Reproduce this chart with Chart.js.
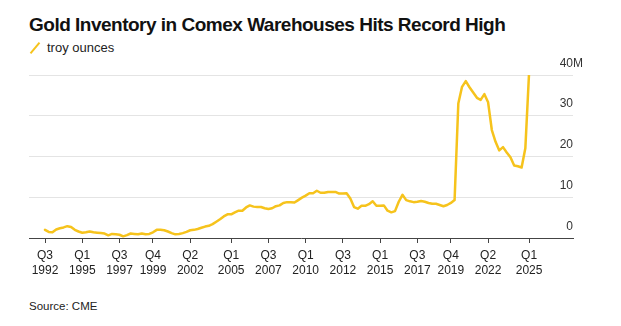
<!DOCTYPE html>
<html>
<head>
<meta charset="utf-8">
<script src="https://cdn.jsdelivr.net/npm/chart.js@4.4.1/dist/chart.umd.min.js"></script>
<style>
  html, body { margin: 0; padding: 0; background: #fff; }
  body { width: 621px; height: 326px; position: relative; overflow: hidden; font-family: "Liberation Sans", Arial, sans-serif; }
  #title { position: absolute; left: 29px; top: 15px; font-size: 19px; line-height: 19px; font-weight: bold; color: #111; letter-spacing: -0.5px; white-space: nowrap; }
  #legend { position: absolute; left: 47px; top: 40.5px; font-size: 13px; line-height: 13px; color: #222; white-space: nowrap; }
  #slash { position: absolute; left: 34.3px; top: 40.5px; width: 2px; height: 14px; background: #F6C31C; transform: rotate(40deg); }
  #source { position: absolute; left: 29px; top: 301px; font-size: 11.5px; line-height: 11.5px; color: #222; white-space: nowrap; }
  #wrap { position: absolute; left: 0; top: 0; width: 621px; height: 326px; }
</style>
</head>
<body>
<div id="title">Gold Inventory in Comex Warehouses Hits Record High</div>
<div id="slash"></div>
<div id="legend">troy ounces</div>
<div id="source">Source: CME</div>
<div id="wrap"><canvas id="c" width="621" height="326"></canvas></div>
<script>
// Quarterly index: 0 = Q3 1992 ... 130 = Q1 2025
const seriesName = "troy ounces";
const inventoryM = [
  2.0,1.5,1.4,2.1,2.4,2.6,2.9,2.7,2.0,1.6,
  1.3,1.4,1.6,1.4,1.3,1.2,1.1,0.65,1.0,0.9,
  0.8,0.4,0.7,1.1,1.0,0.9,1.1,0.9,1.0,1.4,
  2.0,2.0,1.9,1.6,1.2,0.9,1.0,1.2,1.5,1.9,
  2.0,2.2,2.5,2.8,3.0,3.4,4.0,4.6,5.3,5.8,
  5.8,6.3,6.7,6.7,7.5,8.0,7.7,7.6,7.6,7.3,
  7.1,7.3,7.8,8.0,8.6,8.8,8.8,8.7,9.3,9.9,
  10.4,11.0,11.0,11.6,11.1,11.1,11.3,11.3,11.3,10.9,
  10.9,11.0,9.7,7.6,7.2,7.9,7.9,8.3,9.0,7.9,
  7.9,8.0,6.7,6.3,6.6,8.9,10.6,9.3,9.0,8.8,
  8.9,9.1,8.9,8.6,8.4,8.4,8.1,7.8,8.1,8.6,
  9.3,33.0,37.1,38.5,37.0,35.7,34.4,33.9,35.3,33.3,
  26.5,23.6,21.5,22.3,21.0,19.8,17.8,17.6,17.3,22.0,40.5
];
const xTickIndex = [0,10,20,29,39,50,60,70,80,90,100,109,119,130];
const xTickLabels = [
  ["Q3","1992"],["Q1","1995"],["Q3","1997"],["Q4","1999"],["Q2","2002"],
  ["Q1","2005"],["Q3","2007"],["Q1","2010"],["Q3","2012"],["Q1","2015"],
  ["Q3","2017"],["Q4","2019"],["Q2","2022"],["Q1","2025"]
];
const yTickValues = [0,10,20,30,40];
const yTickLabels = ["0","10","20","30","40"];
const yUnit = "M";

const gold = "#F6C31C";

const yLabelPlugin = {
  id: "yLabels",
  afterDraw(chart) {
    const ctx = chart.ctx;
    const ys = chart.scales.y;
    const right = chart.chartArea.right;
    ctx.save();
    ctx.font = '12px "Liberation Sans", Arial, sans-serif';
    ctx.fillStyle = "#333";
    ctx.textBaseline = "alphabetic";
    yTickValues.forEach((v, i) => {
      const py = ys.getPixelForValue(v) - 8.3;
      ctx.textAlign = "right";
      ctx.fillText(yTickLabels[i], right, py);
      if (i === yTickValues.length - 1) {
        ctx.textAlign = "left";
        ctx.fillText(yUnit, right, py);
      }
    });
    ctx.restore();
  }
};

new Chart(document.getElementById("c"), {
  type: "line",
  data: {
    datasets: [{
      label: seriesName,
      data: inventoryM.map((v, i) => ({ x: i, y: v })),
      borderColor: gold,
      borderWidth: 2.5,
      pointRadius: 0,
      tension: 0,
      borderJoinStyle: "round",
      borderCapStyle: "round",
      fill: false
    }]
  },
  options: {
    responsive: false,
    animation: false,
    devicePixelRatio: 1,
    layout: { padding: { left: 29, right: 48, top: 75, bottom: 48 } },
    plugins: { legend: { display: false }, tooltip: { enabled: false }, title: { display: false } },
    scales: {
      x: {
        type: "linear",
        min: -4.3,
        max: 141.8,
        afterBuildTicks(scale) { scale.ticks = xTickIndex.map(v => ({ value: v })); },
        afterFit(scale) { scale.height = 40; },
        ticks: {
          autoSkip: false,
          maxRotation: 0,
          padding: 5,
          color: "#222",
          font: { family: '"Liberation Sans", Arial, sans-serif', size: 12, lineHeight: 1.25 },
          callback(value) {
            const k = xTickIndex.indexOf(value);
            return k >= 0 ? xTickLabels[k] : "";
          }
        },
        grid: { display: true, drawOnChartArea: false, drawTicks: true, tickLength: 5, tickColor: "#444", tickWidth: 1 },
        border: { display: true, color: "#444", width: 1 }
      },
      y: {
        type: "linear",
        min: 0,
        max: 40,
        afterBuildTicks(scale) { scale.ticks = yTickValues.map(v => ({ value: v })); },
        afterFit(scale) { scale.width = 0; },
        ticks: { display: false },
        grid: { color: "#e4e4e4", lineWidth: 1, drawTicks: false },
        border: { display: false }
      }
    }
  },
  plugins: [yLabelPlugin]
});
</script>
</body>
</html>
